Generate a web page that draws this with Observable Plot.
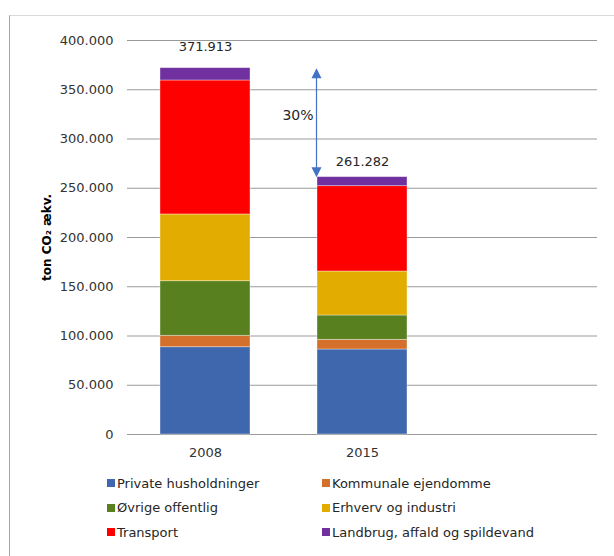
<!DOCTYPE html>
<html>
<head>
<meta charset="utf-8">
<script src="https://cdn.jsdelivr.net/npm/d3@7"></script>
<script src="https://cdn.jsdelivr.net/npm/@observablehq/plot@0.6"></script>
<style>
  body { margin: 0; background: #fff; font-family: "DejaVu Sans", Verdana, sans-serif; }
  #wrap { position: relative; width: 614px; height: 556px; overflow: hidden; }
  #frame { position: absolute; left: 9px; top: 15px; width: 700px; height: 600px;
           border-left: 1px solid #a6a6a6; border-top: 1px solid #d9d9d9; box-sizing: border-box; }
  #chart { position: relative; }
  #legend { position: relative; display: grid; grid-template-columns: 215px 215px;
            padding-left: 107px; margin-top: 6px; font-size: 13px; color: #262626; }
  .item { height: 24.5px; display: flex; align-items: center; white-space: nowrap; }
  .sw { width: 8px; height: 8px; margin-right: 2px; flex: none; }
</style>
</head>
<body>
<div id="wrap">
  <div id="frame"></div>
  <div id="chart"></div>
  <div id="legend"></div>
</div>
<script>
const years = ["2008", "2015"];
const sectors = ["Private husholdninger", "Kommunale ejendomme", "Øvrige offentlig",
                 "Erhverv og industri", "Transport", "Landbrug, affald og spildevand"];
const colors = ["#3F67AE", "#D4702C", "#58801F", "#E3AC00", "#FF0000", "#7030A0"];
const values2008 = [88600, 11600, 55400, 67800, 136000, 12513];
const values2015 = [86300, 9800, 24700, 44700, 86600, 9182];
const totals = [371913, 261282];
const yTicks = [0, 50000, 100000, 150000, 200000, 250000, 300000, 350000, 400000];

const rows = [];
sectors.forEach((s, i) => {
  rows.push({year: years[0], sector: s, value: values2008[i]});
  rows.push({year: years[1], sector: s, value: values2015[i]});
});
const totalRows = years.map((y, i) => ({year: y, total: totals[i]}));
const pct = Math.round((totals[0] - totals[1]) / totals[0] * 100) + "%";
const mid = (totals[0] + totals[1]) / 2;

const fmt = d => d3.format(",")(d).replace(/,/g, ".");

const upHead = { draw(ctx) { ctx.moveTo(0, 0); ctx.lineTo(5, 10); ctx.lineTo(-5, 10); ctx.closePath(); } };
const downHead = { draw(ctx) { ctx.moveTo(0, 0); ctx.lineTo(5, -10); ctx.lineTo(-5, -10); ctx.closePath(); } };

const chart = Plot.plot({
  width: 614,
  height: 465,
  marginLeft: 127,
  marginRight: 17,
  marginTop: 40,
  marginBottom: 31,
  style: { fontFamily: "DejaVu Sans, Verdana, sans-serif", fontSize: "13px", color: "#333", background: "transparent" },
  x: { domain: years, range: [126.5, 440.5], paddingInner: 0.4268, paddingOuter: 0.2134, label: null },
  y: { domain: [0, 400000], label: null },
  color: { domain: sectors, range: colors },
  marks: [
    Plot.ruleY(yTicks, { stroke: "#9a9a9a", strokeWidth: 1 }),
    Plot.axisY({ ticks: yTicks, tickSize: 0, tickPadding: 14, tickFormat: fmt, label: null, fontSize: 13 }),
    Plot.axisX({ tickSize: 0, tickPadding: 13, label: null, fontSize: 13 }),
    Plot.barY(rows, Plot.stackY({ x: "year", y: "value", fill: "sector", order: sectors,
      stroke: "#fff", strokeOpacity: 0.45, strokeWidth: 0.8 })),
    Plot.text(totalRows.filter(d => d.year === "2008"), { x: "year", y: "total", text: d => fmt(d.total), dy: -21, fontSize: 13, fill: "#262626" }),
    Plot.text(totalRows.filter(d => d.year === "2015"), { x: "year", y: "total", text: d => fmt(d.total), dy: -15, fontSize: 13, fill: "#262626" }),
    Plot.ruleX([years[1]], { x: d => d, y1: totals[0], y2: totals[1], dx: -46, stroke: "#4472C4", strokeWidth: 1.2, insetTop: 6, insetBottom: 6 }),
    Plot.dot([years[1]], { x: d => d, y: totals[0], dx: -46, symbol: upHead, fill: "#4472C4", stroke: "none" }),
    Plot.dot([years[1]], { x: d => d, y: totals[1], dx: -46, symbol: downHead, fill: "#4472C4", stroke: "none" }),
    Plot.text([pct], { x: () => years[1], y: mid, text: d => d, dx: -49, dy: -7, textAnchor: "end", fontSize: 14, fill: "#262626" }),
    Plot.text(["ton CO₂ ækv."], { frameAnchor: "left", textAnchor: "middle", dx: -80, rotate: -90, text: d => d, fontWeight: "bold", fontSize: 12, fill: "#000" })
  ]
});
document.getElementById("chart").appendChild(chart);

const legend = document.getElementById("legend");
sectors.forEach((s, i) => {
  const el = document.createElement("div");
  el.className = "item";
  el.innerHTML = `<span class="sw" style="background:${colors[i]}"></span><span>${s}</span>`;
  legend.appendChild(el);
});
</script>
</body>
</html>
